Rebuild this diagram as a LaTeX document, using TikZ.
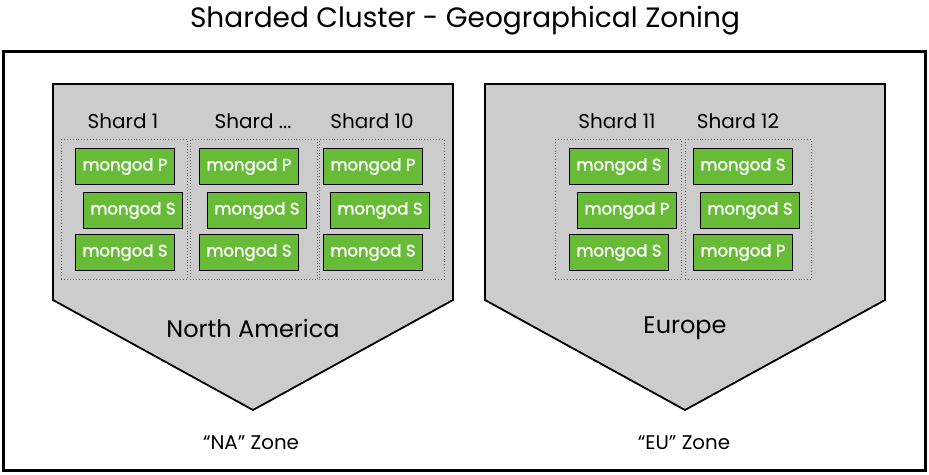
\documentclass[tikz,border=0pt]{standalone}
\usepackage{fontspec}
\setmainfont{Poppins}
\newfontfamily\mgfont[FakeBold=1.6]{Poppins}
\definecolor{mgreen}{RGB}{103,187,55}
\definecolor{zgray}{RGB}{204,204,204}
\begin{document}
\begin{tikzpicture}[x=1pt,y=1pt,
  mg/.style={draw=black,line width=1pt,fill=mgreen,text=white,font=\mgfont\fontsize{16.5}{20}\selectfont,inner sep=0pt,minimum width=99pt,minimum height=36pt,anchor=north west},
  shardbox/.style={draw=black!60,dotted,line width=0.9pt,inner sep=0pt,anchor=north west},
  shardlbl/.style={font=\fontsize{20}{24}\selectfont,text=black},
  zone/.style={draw=black,line width=1.8pt,fill=zgray},
  zonename/.style={font=\fontsize{24}{30}\selectfont},
  zonelbl/.style={font=\fontsize{19.8}{22}\selectfont}]
\useasboundingbox (0,0) rectangle (929,-474);
\node[font=\fontsize{28}{36}\selectfont] (title) at (465,-21) {Sharded Cluster - Geographical Zoning};
\draw[line width=3pt] (3.5,-51) rectangle (925.5,-470.5);
% zones
\draw[zone] (53,-84) -- (453,-84) -- (453,-300) -- (253,-410) -- (53,-300) -- cycle;
\draw[zone] (485,-84) -- (885,-84) -- (885,-300) -- (685,-410) -- (485,-300) -- cycle;
\node[zonename] (na) at (253,-328) {North America};
\node[zonename] (eu) at (685,-328) {Europe};
\node[zonelbl] (naz) at (251,-443) {“NA” Zone};
\node[zonelbl] (euz) at (684,-443) {“EU” Zone};
% shard boxes
\node[shardbox,minimum width=126pt,minimum height=140pt] (b1) at (61,-139) {};
\node[shardbox,minimum width=127pt,minimum height=140pt] (b2) at (190,-139) {};
\node[shardbox,minimum width=125pt,minimum height=140pt] (b3) at (319,-139) {};
\node[shardbox,minimum width=126pt,minimum height=140pt] (b4) at (555,-139) {};
\node[shardbox,minimum width=126pt,minimum height=140pt] (b5) at (685,-139) {};
% labels
\node[shardlbl] (s1) at (123,-121) {Shard 1};
\node[shardlbl] (s2) at (253,-121) {Shard ...};
\node[shardlbl] (s3) at (372,-121) {Shard 10};
\node[shardlbl] (s4) at (617,-121) {Shard 11};
\node[shardlbl] (s5) at (738,-121) {Shard 12};
% mongods
\node[mg] (m11) at (75,-148) {mongod P};
\node[mg] (m12) at (83,-192) {mongod S};
\node[mg] (m13) at (75,-234) {mongod S};
\node[mg] (m21) at (199,-148) {mongod P};
\node[mg] (m22) at (207,-192) {mongod S};
\node[mg] (m23) at (199,-234) {mongod S};
\node[mg] (m31) at (323,-148) {mongod P};
\node[mg] (m32) at (330,-192) {mongod S};
\node[mg] (m33) at (323,-234) {mongod S};
\node[mg] (m41) at (569,-148) {mongod S};
\node[mg] (m42) at (577,-192) {mongod P};
\node[mg] (m43) at (569,-234) {mongod S};
\node[mg] (m51) at (693,-148) {mongod S};
\node[mg] (m52) at (700,-192) {mongod S};
\node[mg] (m53) at (693,-234) {mongod P};
\end{tikzpicture}
\end{document}
